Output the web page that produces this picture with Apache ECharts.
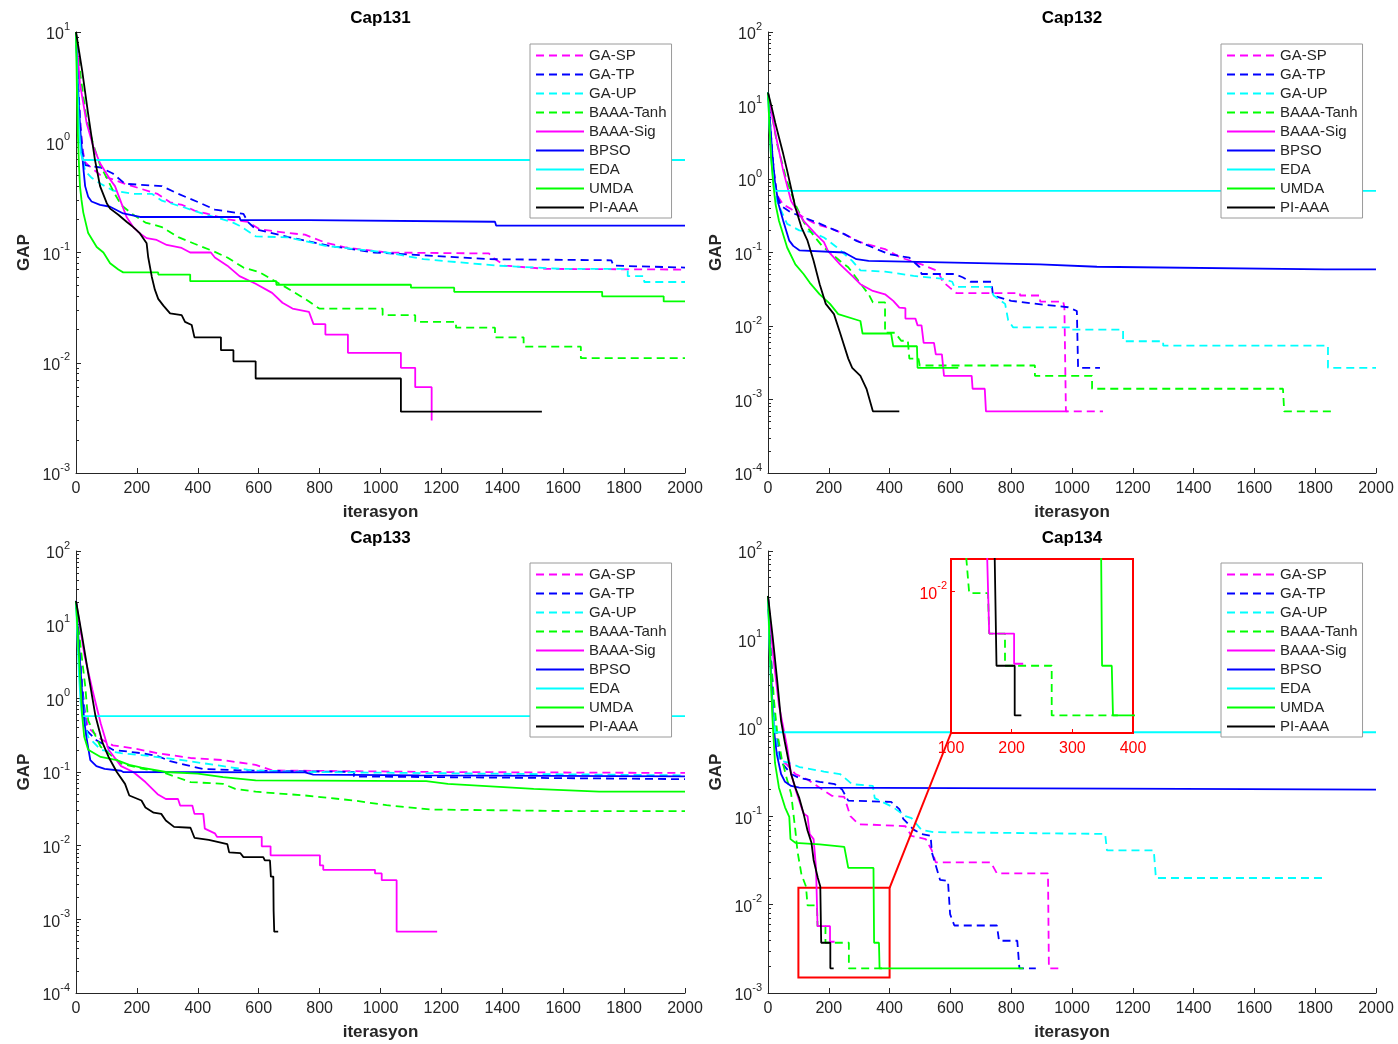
<!DOCTYPE html>
<html>
<head>
<meta charset="utf-8">
<script src="https://cdn.jsdelivr.net/npm/echarts@6/dist/echarts.min.js"></script>
<style>
  html, body { margin: 0; padding: 0; background: #fff; }
  #main { width: 1398px; height: 1044px; }
</style>
</head>
<body>
<div id="main"></div>
<script>
// legend order of the algorithms
var algoNames = ['GA-SP', 'GA-TP', 'GA-UP', 'BAAA-Tanh', 'BAAA-Sig', 'BPSO', 'EDA', 'UMDA', 'PI-AAA'];
var panelTitles = ['Cap131', 'Cap132', 'Cap133', 'Cap134'];
var gapMin = [0.001, 0.0001, 0.0001, 0.001];
var gapMax = [10, 100, 100, 100];
var iterMax = 2000;
var iterStep = 200;
// zoomed window of Cap134
var zoomIter = [100, 400];
var zoomGap = [0.0015, 0.0155];

// ---- Cap131 ----
var gaSp131 = [[0,10],[8,3],[15,1.4],[22,0.85],[30,0.66],[40,0.62],[81,0.5],[121,0.46],[161,0.42],[215,0.377],[268,0.34],[309,0.285],[349,0.27],[389,0.24],[430,0.225],[497,0.2],[564,0.19],[604,0.162],[698,0.15],[752,0.145],[819,0.123],[886,0.111],[1020,0.1],[1356,0.098],[1369,0.09],[1409,0.076],[1544,0.071],[2000,0.07]];
var gaTp131 = [[0,10],[8,3],[15,1.3],[22,0.8],[30,0.62],[81,0.59],[121,0.52],[161,0.42],[282,0.4],[336,0.34],[403,0.285],[456,0.245],[550,0.224],[564,0.19],[591,0.162],[698,0.138],[832,0.115],[980,0.1],[1356,0.087],[1758,0.085],[1765,0.076],[2000,0.073]];
var gaUp131 = [[0,10],[8,2.5],[15,1.1],[22,0.7],[30,0.55],[50,0.48],[81,0.42],[121,0.365],[188,0.34],[250,0.34],[282,0.295],[349,0.26],[416,0.225],[510,0.19],[537,0.175],[591,0.14],[698,0.137],[819,0.115],[1020,0.1],[1141,0.087],[1383,0.076],[1597,0.071],[1812,0.071],[1812,0.061],[1866,0.061],[1866,0.054],[2000,0.054]];
var tanh131 = [[0,10],[15,4],[35,1.6],[57,0.95],[79,0.62],[100,0.48],[125,0.35],[148,0.27],[188,0.22],[228,0.187],[282,0.17],[336,0.138],[389,0.12],[450,0.103],[497,0.09],[550,0.073],[604,0.066],[644,0.057],[691,0.048],[752,0.038],[799,0.031],[1007,0.031],[1007,0.027],[1114,0.027],[1114,0.0235],[1248,0.0235],[1248,0.0208],[1376,0.0208],[1376,0.017],[1470,0.017],[1470,0.014],[1658,0.014],[1658,0.011],[2000,0.011]];
var sig131 = [[0,10],[13,3.4],[35,1.49],[57,0.91],[79,0.645],[112,0.46],[128,0.4],[145,0.3],[166,0.21],[188,0.17],[210,0.149],[232,0.135],[265,0.13],[298,0.117],[347,0.11],[375,0.1],[443,0.1],[456,0.09],[497,0.076],[537,0.061],[590,0.052],[644,0.043],[678,0.035],[711,0.031],[765,0.029],[780,0.0224],[819,0.0224],[819,0.018],[893,0.018],[893,0.0123],[1067,0.0123],[1067,0.009],[1114,0.009],[1114,0.006],[1168,0.006],[1168,0.003]];
var bpso131 = [[0,10],[5,4],[10,2],[15,1.2],[20,0.8],[25,0.55],[30,0.4],[40,0.32],[51,0.29],[79,0.27],[112,0.26],[155,0.226],[210,0.21],[537,0.21],[540,0.197],[765,0.197],[770,0.19],[1376,0.19],[1380,0.175],[2000,0.175]];
var eda131 = [[0,10],[5,3],[10,1.3],[16,0.8],[22,0.69],[2000,0.69]];
var umda131 = [[0,10],[3,3],[6,1.2],[10,0.6],[13,0.4],[18,0.3],[24,0.23],[40,0.15],[68,0.112],[90,0.1],[112,0.08],[139,0.07],[155,0.066],[270,0.066],[270,0.063],[375,0.063],[375,0.055],[658,0.055],[658,0.051],[1100,0.051],[1100,0.048],[1242,0.048],[1242,0.044],[1728,0.044],[1728,0.04],[1930,0.04],[1930,0.036],[2000,0.036]];
var pi131 = [[0,10],[20,4.5],[40,1.8],[62,0.7],[79,0.4],[101,0.28],[112,0.25],[139,0.22],[166,0.19],[188,0.17],[210,0.149],[232,0.121],[237,0.091],[249,0.06],[259,0.046],[270,0.038],[287,0.033],[309,0.028],[347,0.027],[358,0.0235],[380,0.022],[389,0.017],[476,0.017],[476,0.013],[517,0.013],[517,0.0103],[590,0.0103],[590,0.0072],[1067,0.0072],[1067,0.0036],[1530,0.0036]];

// ---- Cap132 ----
var gaSp132 = [[0,15],[8,5],[15,2],[22,1],[30,0.6],[50,0.45],[76,0.39],[117,0.3],[157,0.245],[210,0.21],[251,0.178],[304,0.138],[385,0.111],[438,0.085],[505,0.069],[559,0.056],[575,0.04],[599,0.033],[620,0.028],[829,0.028],[829,0.026],[895,0.026],[895,0.0215],[971,0.0215],[975,0.018],[980,0.018],[980,0.00069],[1102,0.00069]];
var gaTp132 = [[0,15],[8,5],[15,2],[22,1],[30,0.6],[43,0.43],[76,0.35],[117,0.3],[157,0.26],[210,0.21],[251,0.178],[291,0.144],[345,0.117],[398,0.095],[465,0.085],[499,0.063],[505,0.051],[613,0.051],[640,0.046],[666,0.04],[735,0.04],[740,0.026],[800,0.022],[905,0.0195],[987,0.018],[1016,0.016],[1020,0.016],[1020,0.0027],[1092,0.0027]];
var gaUp132 = [[0,15],[8,4],[15,1.5],[22,0.8],[29,0.5],[63,0.245],[103,0.2],[143,0.19],[184,0.16],[224,0.12],[277,0.077],[304,0.057],[385,0.055],[479,0.048],[572,0.044],[606,0.04],[613,0.034],[733,0.034],[742,0.026],[780,0.02],[790,0.012],[806,0.0096],[993,0.0096],[993,0.0089],[1168,0.0089],[1168,0.0062],[1300,0.0062],[1300,0.0054],[1842,0.0054],[1842,0.0027],[2000,0.0027]];
var tanh132 = [[0,15],[30,3],[60,1],[90,0.45],[120,0.25],[150,0.17],[180,0.12],[210,0.095],[240,0.075],[264,0.063],[300,0.04],[331,0.027],[345,0.021],[385,0.021],[385,0.0081],[418,0.0081],[438,0.0063],[460,0.0063],[465,0.0036],[495,0.0036],[499,0.0029],[878,0.0029],[878,0.0021],[1066,0.0021],[1066,0.0014],[1694,0.0014],[1698,0.00069],[1853,0.00069]];
var sig132 = [[0,15],[25,4],[50,1.3],[76,0.5],[117,0.27],[157,0.178],[184,0.138],[197,0.105],[237,0.069],[277,0.048],[304,0.037],[345,0.03],[385,0.027],[412,0.022],[432,0.0178],[452,0.0175],[452,0.0126],[485,0.0126],[492,0.0102],[505,0.0102],[512,0.0059],[546,0.0059],[552,0.0041],[572,0.0041],[579,0.0021],[670,0.0021],[673,0.0014],[713,0.0014],[717,0.00069],[985,0.00069]];
var bpso132 = [[0,15],[8,5],[15,2],[23,0.9],[35,0.45],[50,0.27],[70,0.145],[83,0.123],[103,0.107],[251,0.1],[291,0.081],[331,0.077],[894,0.069],[1082,0.064],[1832,0.059],[2000,0.059]];
var eda132 = [[0,15],[5,5],[10,2],[18,0.9],[23,0.69],[2000,0.69]];
var umda132 = [[0,15],[5,5],[10,2],[18,0.8],[25,0.45],[36,0.27],[63,0.117],[90,0.069],[117,0.051],[137,0.039],[170,0.027],[204,0.02],[231,0.0145],[304,0.0117],[311,0.0079],[405,0.0079],[412,0.0053],[490,0.0053],[492,0.0027],[626,0.0027]];
var pi132 = [[0,15],[12,9.5],[24,5.8],[36,3.7],[50,2.2],[63,1.3],[76,0.75],[90,0.41],[110,0.22],[130,0.145],[150,0.077],[170,0.037],[190,0.02],[217,0.0145],[237,0.0081],[264,0.0036],[277,0.0027],[304,0.0021],[324,0.0014],[345,0.00069],[432,0.00069]];

// ---- Cap133 ----
var gaSp133 = [[0,21],[10,5],[20,1.5],[30,0.6],[40,0.4],[81,0.28],[121,0.23],[188,0.21],[268,0.18],[376,0.155],[483,0.145],[590,0.125],[644,0.105],[1191,0.1],[2000,0.097]];
var gaTp133 = [[0,21],[10,5],[20,1.5],[30,0.55],[34,0.37],[67,0.27],[121,0.2],[215,0.18],[268,0.165],[309,0.14],[416,0.11],[550,0.105],[913,0.1],[913,0.087],[2000,0.08]];
var gaUp133 = [[0,21],[10,4],[20,1.2],[30,0.45],[40,0.3],[81,0.2],[148,0.18],[215,0.17],[349,0.145],[483,0.12],[577,0.105],[752,0.1],[2000,0.09]];
var tanh133 = [[0,21],[15,5],[30,1.5],[40,0.5],[81,0.22],[148,0.13],[220,0.11],[282,0.1],[376,0.073],[483,0.069],[523,0.059],[590,0.054],[752,0.048],[913,0.041],[1020,0.0355],[1161,0.031],[1597,0.0295],[2000,0.0295]];
var sig133 = [[0,21],[27,4],[54,1.3],[81,0.46],[107,0.2],[148,0.12],[188,0.1],[228,0.073],[268,0.05],[295,0.043],[335,0.043],[342,0.035],[382,0.035],[389,0.027],[418,0.027],[423,0.017],[456,0.0147],[463,0.0132],[610,0.0132],[610,0.0098],[639,0.0098],[639,0.0074],[801,0.0074],[801,0.0054],[812,0.0054],[812,0.0047],[982,0.0047],[982,0.0042],[1004,0.0042],[1004,0.0034],[1053,0.0034],[1053,0.00068],[1186,0.00068]];
var bpso133 = [[0,21],[10,5],[20,1.2],[27,0.5],[34,0.3],[47,0.145],[67,0.12],[94,0.11],[148,0.104],[155,0.1],[752,0.099],[779,0.092],[1128,0.09],[2000,0.087]];
var eda133 = [[0,21],[5,6],[10,2],[15,0.9],[20,0.575],[2000,0.575]];
var umda133 = [[0,21],[8,5],[15,1.5],[20,0.6],[27,0.3],[40,0.2],[81,0.16],[134,0.145],[175,0.125],[215,0.115],[295,0.1],[400,0.095],[483,0.085],[590,0.077],[1150,0.075],[1221,0.069],[1503,0.059],[1718,0.054],[2000,0.054]];
var pi133 = [[0,21],[20,7],[40,2.2],[64,0.575],[87,0.25],[107,0.16],[134,0.1],[161,0.069],[175,0.048],[215,0.041],[228,0.033],[255,0.028],[280,0.027],[295,0.022],[322,0.018],[376,0.0175],[389,0.0128],[436,0.012],[497,0.0105],[503,0.0081],[540,0.0079],[550,0.007],[615,0.007],[620,0.0063],[637,0.0063],[640,0.0038],[648,0.0038],[649,0.0013],[651,0.00068],[664,0.00068]];

// ---- Cap134 ----
var gaSp134 = [[0,31],[10,6],[20,1.6],[30,0.7],[40,0.45],[63,0.38],[90,0.3],[130,0.26],[170,0.21],[210,0.17],[251,0.165],[271,0.1],[298,0.081],[345,0.08],[452,0.077],[472,0.06],[519,0.055],[539,0.041],[552,0.03],[733,0.03],[753,0.0225],[921,0.0225],[924,0.0019],[968,0.0019]];
var gaTp134 = [[0,31],[10,6],[20,1.5],[30,0.7],[43,0.41],[76,0.3],[103,0.27],[170,0.245],[220,0.23],[244,0.2],[264,0.15],[405,0.145],[432,0.12],[445,0.093],[480,0.07],[505,0.063],[535,0.06],[539,0.039],[566,0.019],[592,0.0185],[599,0.0078],[613,0.0058],[753,0.0058],[760,0.0039],[820,0.0039],[827,0.0019],[881,0.0019]];
var gaUp134 = [[0,31],[10,5],[20,1.4],[30,0.6],[36,0.43],[70,0.4],[103,0.36],[184,0.32],[237,0.3],[277,0.23],[345,0.22],[351,0.16],[412,0.126],[452,0.1],[472,0.095],[505,0.07],[546,0.066],[1109,0.063],[1115,0.041],[1269,0.041],[1276,0.02],[1832,0.02]];
var tanh134 = [[0,31],[10,6],[20,2],[30,0.9],[45,0.45],[60,0.28],[76,0.18],[90,0.069],[97,0.04],[110,0.022],[125,0.016],[130,0.0098],[161,0.0098],[163,0.0057],[189,0.0057],[189,0.0037],[266,0.0037],[266,0.0019],[375,0.0019]];
var sig134 = [[0,31],[18,6],[36,1.8],[63,0.6],[76,0.3],[95,0.18],[117,0.107],[130,0.1],[137,0.063],[150,0.055],[158,0.026],[163,0.0057],[204,0.0057],[204,0.0038],[219,0.0038]];
var bpso134 = [[0,31],[8,6],[16,1.5],[22,0.8],[29,0.5],[43,0.3],[56,0.245],[76,0.22],[103,0.21],[1149,0.205],[2000,0.2]];
var eda134 = [[0,31],[5,8],[10,3],[16,1.3],[22,0.89],[2000,0.89]];
var umda134 = [[0,31],[8,5],[15,1.2],[23,0.4],[36,0.21],[56,0.126],[70,0.098],[74,0.055],[90,0.05],[170,0.048],[251,0.045],[264,0.026],[347,0.026],[349,0.0037],[365,0.0037],[367,0.0019],[840,0.0019]];
var pi134 = [[0,31],[15,11],[30,3.5],[43,1.2],[55,0.7],[76,0.3],[90,0.21],[103,0.16],[117,0.107],[130,0.069],[143,0.05],[150,0.032],[164,0.02],[172,0.016],[175,0.0037],[205,0.0037],[205,0.0019],[216,0.0019]];

var cap131 = [gaSp131, gaTp131, gaUp131, tanh131, sig131, bpso131, eda131, umda131, pi131];
var cap132 = [gaSp132, gaTp132, gaUp132, tanh132, sig132, bpso132, eda132, umda132, pi132];
var cap133 = [gaSp133, gaTp133, gaUp133, tanh133, sig133, bpso133, eda133, umda133, pi133];
var cap134 = [gaSp134, gaTp134, gaUp134, tanh134, sig134, bpso134, eda134, umda134, pi134];
var panelData = [cap131, cap132, cap133, cap134];

// styles
var algoColors = ['#ff00ff', '#0000ff', '#00ffff', '#00ff00', '#ff00ff', '#0000ff', '#00ffff', '#00ff00', '#000000'];
var algoDashed = [true, true, true, true, false, false, false, false, false];
var axisColor = '#262626';
var font = '"Liberation Sans", Arial, Helvetica, sans-serif';

// plot boxes: left, top, width, height
var boxes = [[76, 32, 609, 441], [768, 32, 608, 441], [76, 551, 609, 442], [768, 551, 608, 442]];
var insetBox = [951, 559, 182, 174];

function powLabel(v) {
    var e = Math.log10(v);
    var r = Math.round(e);
    if (Math.abs(e - r) > 1e-6) return '';
    return '{b|10}{s|' + r + '}';
}

function powRich(color) {
    return {
        b: { fontSize: 16, lineHeight: 22, verticalAlign: 'bottom', color: color, fontFamily: font },
        s: { fontSize: 11, lineHeight: 11, verticalAlign: 'top', color: color, fontFamily: font }
    };
}

function plainNum(v) { return String(v); }

var chart = echarts.init(document.getElementById('main'));

var grids = [], xAxes = [], yAxes = [], series = [], titles = [], legends = [];

boxes.forEach(function (b, g) {
    grids.push({ left: b[0], top: b[1], width: b[2], height: b[3], containLabel: false });
    xAxes.push({
        gridIndex: g, type: 'value', min: 0, max: iterMax, interval: iterStep,
        name: 'iterasyon', nameLocation: 'middle', nameGap: 31,
        nameTextStyle: { fontSize: 17, fontWeight: 'bold', color: axisColor, fontFamily: font },
        axisLine: { lineStyle: { color: axisColor, width: 1 } },
        axisTick: { inside: true, length: 5, lineStyle: { color: axisColor } },
        axisLabel: { fontSize: 16, color: axisColor, margin: 8, fontFamily: font, formatter: plainNum },
        splitLine: { show: false }
    });
    yAxes.push({
        gridIndex: g, type: 'log', logBase: 10, min: gapMin[g], max: gapMax[g], splitNumber: 10,
        name: 'GAP', nameLocation: 'middle', nameGap: 43,
        nameTextStyle: { fontSize: 17, fontWeight: 'bold', color: axisColor, fontFamily: font },
        axisLine: { lineStyle: { color: axisColor, width: 1 } },
        axisTick: { inside: true, length: 5, lineStyle: { color: axisColor } },
        minorTick: { show: true, splitNumber: 9, length: 3, lineStyle: { color: axisColor } },
        axisLabel: { formatter: powLabel, rich: powRich(axisColor), margin: 6 },
        splitLine: { show: false }
    });
    titles.push({
        text: panelTitles[g], left: b[0] + b[2] / 2 - 5, top: g >= 2 ? 525 : 5, textAlign: 'center',
        textStyle: { fontSize: 17, fontWeight: 'bold', color: '#000', fontFamily: font }
    });
    legends.push({
        data: algoNames, orient: 'vertical', left: b[0] + b[2] - 155, top: b[1] + 12,
        itemWidth: 48, itemHeight: 14, itemGap: 4, padding: [4, 5, 3, 5],
        backgroundColor: '#fff', borderColor: '#9a9a9a', borderWidth: 1, borderRadius: 0,
        itemStyle: { opacity: 0 },
        textStyle: { fontSize: 15, lineHeight: 15, color: axisColor, fontFamily: font },
        selectedMode: false
    });
    panelData[g].forEach(function (arr, k) {
        series.push({
            name: algoNames[k], type: 'line', xAxisIndex: g, yAxisIndex: g,
            data: arr, symbol: 'none', showSymbol: false, animation: false, z: 2,
            lineStyle: { color: algoColors[k], width: 1.8, type: algoDashed[k] ? [8, 5] : 'solid' },
            itemStyle: { color: algoColors[k] }
        });
    });
});

// red frame of the zoomed window on Cap134
series.push({
    type: 'line', xAxisIndex: 3, yAxisIndex: 3, data: [], silent: true, animation: false,
    markArea: {
        silent: true,
        itemStyle: { color: 'rgba(0,0,0,0)', borderColor: '#ff0000', borderWidth: 2 },
        data: [[{ coord: [zoomIter[0], zoomGap[1]] }, { coord: [zoomIter[1], zoomGap[0]] }]]
    }
});

// inset axes
grids.push({
    left: insetBox[0], top: insetBox[1], width: insetBox[2], height: insetBox[3], z: 10,
    show: true, backgroundColor: '#fff', borderColor: '#ff0000', borderWidth: 2
});
xAxes.push({
    gridIndex: 4, type: 'value', min: zoomIter[0], max: zoomIter[1], interval: 100, z: 11,
    axisLine: { lineStyle: { color: '#ff0000', width: 2 } },
    axisTick: { inside: true, length: 4, lineStyle: { color: '#ff0000' } },
    axisLabel: { fontSize: 16, color: '#ff0000', margin: 8, fontFamily: font },
    splitLine: { show: false }
});
yAxes.push({
    gridIndex: 4, type: 'log', logBase: 10, min: zoomGap[0], max: zoomGap[1], z: 11,
    axisLine: { lineStyle: { color: '#ff0000', width: 2 } },
    axisTick: { inside: true, length: 4, lineStyle: { color: '#ff0000' } },
    axisLabel: { formatter: powLabel, rich: powRich('#ff0000'), margin: 4, showMinLabel: false, showMaxLabel: false },
    splitLine: { show: false }
});
cap134.forEach(function (arr, k) {
    series.push({
        name: algoNames[k], type: 'line', xAxisIndex: 4, yAxisIndex: 4,
        data: arr, symbol: 'none', showSymbol: false, animation: false, z: 12,
        lineStyle: { color: algoColors[k], width: 1.8, type: algoDashed[k] ? [8, 5] : 'solid' },
        itemStyle: { color: algoColors[k] }
    });
});

chart.setOption({
    backgroundColor: '#fff',
    animation: false,
    title: titles,
    legend: legends,
    grid: grids,
    xAxis: xAxes,
    yAxis: yAxes,
    series: series
});

// connector from the small frame to the inset
var p1 = chart.convertToPixel({ gridIndex: 3 }, [zoomIter[1], zoomGap[1]]);
var p2 = chart.convertToPixel({ gridIndex: 4 }, [zoomIter[0], zoomGap[0]]);
chart.setOption({
    graphic: [{
        type: 'line', z: 20, silent: true,
        shape: { x1: p1[0], y1: p1[1], x2: p2[0], y2: p2[1] },
        style: { stroke: '#ff0000', lineWidth: 2 }
    }]
});
</script>
</body>
</html>
